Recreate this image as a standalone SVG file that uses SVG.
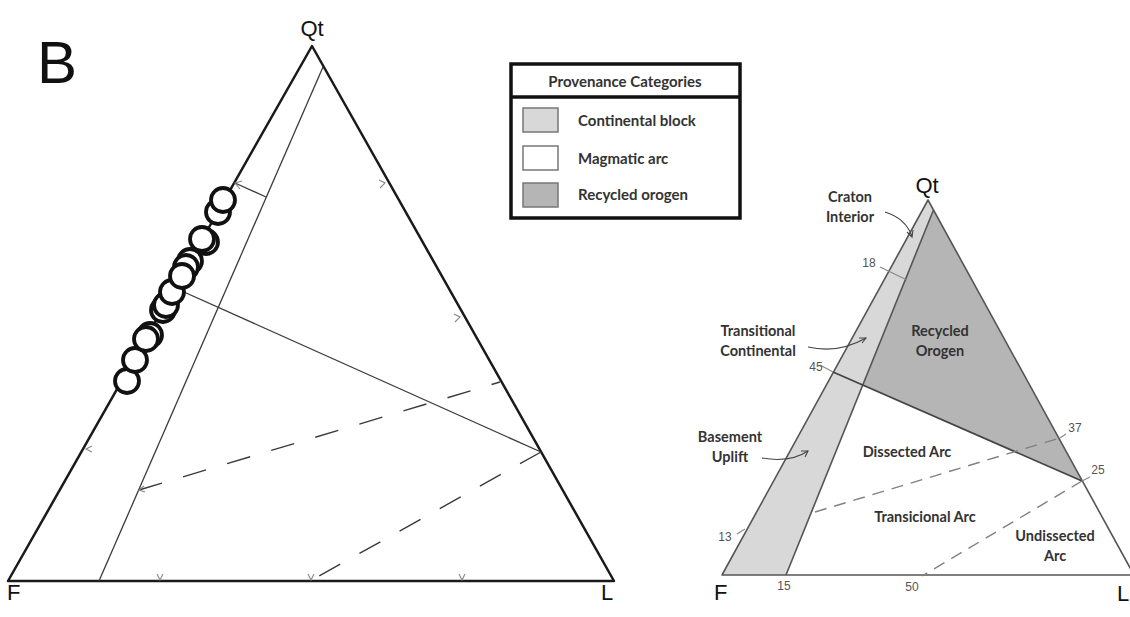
<svg xmlns="http://www.w3.org/2000/svg" width="1130" height="617" viewBox="0 0 1130 617">
<defs>
<style>
.edge{fill:none;stroke:#1a1a1a;stroke-width:2.5;stroke-linejoin:round}
.inner{fill:none;stroke:#3a3a3a;stroke-width:1.3}
.dashL{fill:none;stroke:#3a3a3a;stroke-width:1.4;stroke-dasharray:24 22}
.tick{fill:none;stroke:#888;stroke-width:1.1}
.pt{fill:#fff;stroke:#111;stroke-width:3.8}
.redge{fill:none;stroke:#555;stroke-width:1.6;stroke-linejoin:round}
.rline{fill:none;stroke:#444;stroke-width:1.8}
.dashR{fill:none;stroke:#808080;stroke-width:1.4;stroke-dasharray:12 8}
.arr{fill:none;stroke:#444;stroke-width:1.1}
.vert{font-family:"Liberation Sans",Arial,sans-serif;font-size:22px;fill:#111}
.lab{font-family:Lato,"Open Sans",sans-serif;font-weight:bold;font-size:14.5px;fill:#333;text-anchor:middle}
.num{font-family:"Liberation Sans",Arial,sans-serif;font-size:12px;fill:#555;text-anchor:middle}
.leg{font-family:Lato,"Open Sans",sans-serif;font-weight:bold;font-size:15px;fill:#333}
.light{fill:#d8d8d8}
.dark{fill:#b5b5b5}
</style>
</defs>

<text x="37" y="83" font-family="Liberation Sans, Arial, sans-serif" font-size="60" fill="#111">B</text>

<g id="left-diagram">
  <text class="vert" x="312" y="36" text-anchor="middle">Qt</text>
  <text class="vert" x="7" y="600">F</text>
  <text class="vert" x="601" y="600">L</text>
  <polygon class="edge" points="8,581 312,46 614,581"/>
  <g id="left-lines">
    <line class="inner" x1="323" y1="67" x2="99" y2="581"/>
    <line class="inner" x1="175" y1="288" x2="541" y2="452"/>
    <line class="inner" x1="235" y1="183" x2="266" y2="197"/>
    <polyline class="tick" points="242,181 235,183 240,189"/>
    <line class="dashL" x1="139" y1="490" x2="500" y2="382"/>
    <line class="dashL" x1="541" y1="452" x2="312" y2="580"/>
    <polyline class="tick" points="157,574 160,580 163,574"/>
    <polyline class="tick" points="308,574 311,580 314,574"/>
    <polyline class="tick" points="459,574 462,580 465,574"/>
    <polyline class="tick" points="379,180 385,183 380,188"/>
    <polyline class="tick" points="454,314 460,317 455,322"/>
    <polyline class="tick" points="92,446 86,449 92,452"/>
    <polyline class="tick" points="144,486 139,490 145,492"/>
  </g>
  <g id="data-points">
    <circle class="pt" cx="127" cy="381" r="12"/>
    <circle class="pt" cx="135" cy="360" r="12"/>
    <circle class="pt" cx="150" cy="335" r="12"/>
    <circle class="pt" cx="146" cy="339" r="12"/>
    <circle class="pt" cx="163" cy="310" r="12"/>
    <circle class="pt" cx="166" cy="305" r="12"/>
    <circle class="pt" cx="172" cy="292" r="12"/>
    <circle class="pt" cx="190" cy="261" r="12"/>
    <circle class="pt" cx="186" cy="267" r="12"/>
    <circle class="pt" cx="182" cy="276" r="12"/>
    <circle class="pt" cx="206" cy="242" r="12"/>
    <circle class="pt" cx="202" cy="239" r="12"/>
    <circle class="pt" cx="218" cy="212" r="12"/>
    <circle class="pt" cx="223" cy="200" r="12"/>
  </g>
</g>

<g id="legend">
  <rect x="511" y="64" width="229" height="154" fill="#fff" stroke="#111" stroke-width="3.5"/>
  <line x1="511" y1="97" x2="740" y2="97" stroke="#111" stroke-width="3.5"/>
  <text class="leg" x="625" y="87" text-anchor="middle" font-size="14.5">Provenance Categories</text>
  <g id="legend-continental">
    <rect x="523" y="108" width="35" height="24" fill="#d8d8d8" stroke="#777" stroke-width="1.5"/>
    <text class="leg" x="578" y="126">Continental block</text>
  </g>
  <g id="legend-magmatic">
    <rect x="523" y="146" width="35" height="24" fill="#fff" stroke="#777" stroke-width="1.5"/>
    <text class="leg" x="578" y="164">Magmatic arc</text>
  </g>
  <g id="legend-recycled">
    <rect x="523" y="183" width="35" height="24" fill="#b5b5b5" stroke="#777" stroke-width="1.5"/>
    <text class="leg" x="578" y="200">Recycled orogen</text>
  </g>
</g>

<g id="right-diagram">
  <g id="continental-block">
    <polygon class="light" points="928,200 933.5,210 786,575 722,575"/>
  </g>
  <g id="recycled-orogen">
    <polygon class="dark" points="933.5,210 862.6,385 1082,481"/>
  </g>
  <g id="right-lines">
    <polygon class="redge" points="722,575 928,200 1134,575"/>
    <line class="redge" x1="933.5" y1="210" x2="786" y2="575"/>
    <line class="rline" x1="833" y1="372" x2="1082" y2="481"/>
    <line class="dashR" x1="815" y1="512" x2="1060" y2="438"/>
    <line class="dashR" x1="1082" y1="481" x2="922" y2="576"/>
    <line class="tick" x1="880" y1="267" x2="907" y2="280" stroke="#555"/>
    <line class="tick" x1="820" y1="365" x2="833" y2="372" stroke="#555"/>
    <line class="tick" x1="737" y1="534" x2="745" y2="529" stroke="#555"/>
    <line class="tick" x1="1060" y1="438" x2="1066" y2="434" stroke="#555"/>
    <line class="tick" x1="1082" y1="481" x2="1090" y2="477" stroke="#555"/>
  </g>
  <g id="arrows">
    <path class="arr" d="M885,212 Q905,218 912,236"/>
    <polyline class="arr" points="907,232 912,237 913,230"/>
    <path class="arr" d="M808,347 Q838,354 866,338"/>
    <polyline class="arr" points="859,338 866,338 862,343"/>
    <path class="arr" d="M762,458 Q790,463 808,451"/>
    <polyline class="arr" points="801,451 808,451 805,457"/>
  </g>
  <text class="vert" x="927" y="193" text-anchor="middle" font-size="21">Qt</text>
  <text class="vert" x="714" y="600" font-size="24">F</text>
  <text class="vert" x="1117" y="601" font-size="24">L</text>
  <text class="lab" x="850" y="202">Craton</text>
  <text class="lab" x="850" y="222">Interior</text>
  <text class="lab" x="758" y="336">Transitional</text>
  <text class="lab" x="758" y="356">Continental</text>
  <text class="lab" x="940" y="336">Recycled</text>
  <text class="lab" x="940" y="356">Orogen</text>
  <text class="lab" x="730" y="442">Basement</text>
  <text class="lab" x="730" y="462">Uplift</text>
  <text class="lab" x="907" y="457">Dissected Arc</text>
  <text class="lab" x="925" y="522">Transicional Arc</text>
  <text class="lab" x="1055" y="541">Undissected</text>
  <text class="lab" x="1055" y="561">Arc</text>
  <text class="num" x="869" y="267">18</text>
  <text class="num" x="816" y="371">45</text>
  <text class="num" x="1075" y="432">37</text>
  <text class="num" x="1098" y="474">25</text>
  <text class="num" x="725" y="541">13</text>
  <text class="num" x="784" y="590">15</text>
  <text class="num" x="912" y="591">50</text>
</g>
</svg>
